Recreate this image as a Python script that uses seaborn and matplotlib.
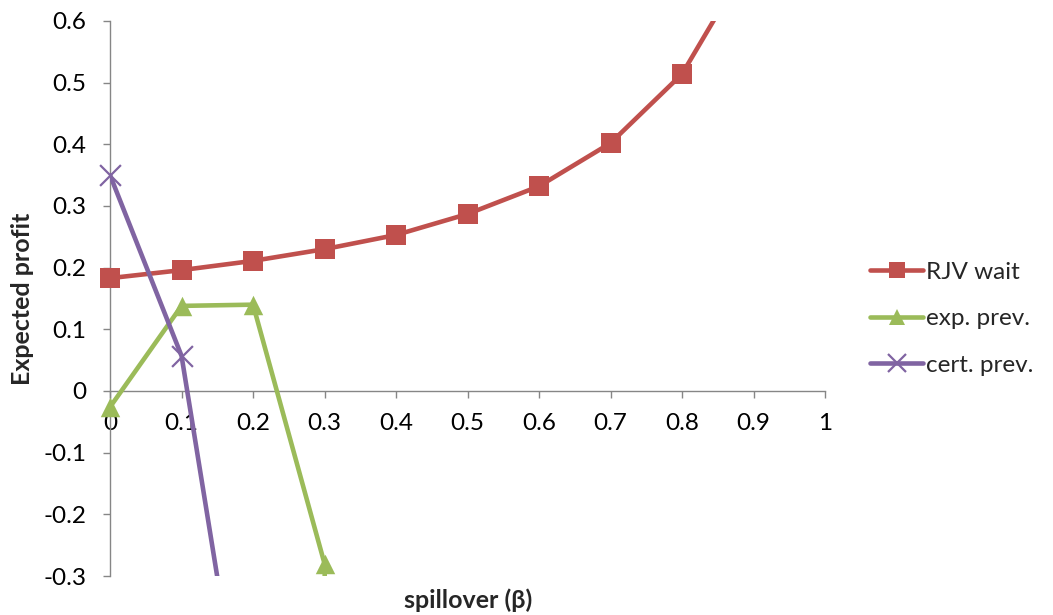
import numpy as np
import matplotlib
matplotlib.use("Agg")
import matplotlib.pyplot as plt
from matplotlib.lines import Line2D
from matplotlib.ticker import FixedLocator, FuncFormatter
import seaborn as sns

# Spillover levels and expected profit for each strategy
beta = [0.0, 0.1, 0.2, 0.3, 0.4, 0.5, 0.6, 0.7, 0.8, 0.9]
rjv_wait = [0.183, 0.196, 0.211, 0.230, 0.253, 0.287, 0.332, 0.402, 0.514, 0.71]
exp_prev = [-0.026, 0.138, 0.140, -0.280, -8.0]
cert_prev = [0.350, 0.057, -0.66]

series_names = ["RJV wait", "exp. prev.", "cert. prev."]
x_ticks = [0, 0.1, 0.2, 0.3, 0.4, 0.5, 0.6, 0.7, 0.8, 0.9, 1]
y_ticks = [-0.3, -0.2, -0.1, 0, 0.1, 0.2, 0.3, 0.4, 0.5, 0.6]
y_min, y_max = -0.3, 0.6

sns.set_theme(style="white")
plt.rcParams["font.family"] = ["Lato", "DejaVu Sans"]
plt.rcParams["axes.unicode_minus"] = False

fig = plt.figure(figsize=(10.53, 6.15), dpi=100)
ax = fig.add_axes([0.1045, 0.0634, 0.679, 0.9025])

styles = [
    dict(color="#C0504D", marker="s", ms=14, mew=0),
    dict(color="#9BBB59", marker="^", ms=14, mew=0),
    dict(color="#8064A2", marker="x", ms=15, mew=1.6),
]
LW = 3.3
handles = []
for name, vals, st in zip(series_names, [rjv_wait, exp_prev, cert_prev], styles):
    xs = np.array(beta[:len(vals)])
    ys = np.array(vals)
    # the connecting line is clipped to the plot area
    sns.lineplot(x=xs, y=ys, ax=ax, color=st["color"], linewidth=LW,
                 solid_capstyle="round", legend=False)
    # markers for points inside the value range are drawn whole
    inside = (ys >= y_min) & (ys <= y_max)
    if st["marker"] == "x":
        sns.scatterplot(x=xs[inside], y=ys[inside], ax=ax, marker="x",
                        s=st["ms"] ** 2, color=st["color"],
                        linewidth=st["mew"], legend=False, zorder=3)
    else:
        sns.scatterplot(x=xs[inside], y=ys[inside], ax=ax,
                        marker=st["marker"], s=st["ms"] ** 2,
                        color=st["color"], edgecolor=st["color"],
                        linewidth=0, legend=False, zorder=3)
    ax.collections[-1].set_clip_on(False)
    handles.append(Line2D([], [], color=st["color"], linewidth=LW,
                          solid_capstyle="round", marker=st["marker"],
                          markersize=st["ms"] * 0.85, markeredgewidth=st["mew"],
                          markerfacecolor=st["color"],
                          markeredgecolor=st["color"]))

ax.set_xlim(0, 1)
ax.set_ylim(y_min, y_max)
ax.set_xlabel("")
ax.set_ylabel("")

axis_grey = "#868686"
for side in ["top", "right"]:
    ax.spines[side].set_visible(False)
for side in ["left", "bottom"]:
    ax.spines[side].set_color(axis_grey)
    ax.spines[side].set_linewidth(1.0)
    ax.spines[side].set_zorder(1)
ax.spines["bottom"].set_position(("data", 0))

fmt = FuncFormatter(lambda v, p: f"{v:g}")
ax.xaxis.set_major_locator(FixedLocator(x_ticks))
ax.yaxis.set_major_locator(FixedLocator(y_ticks))
ax.xaxis.set_major_formatter(fmt)
ax.yaxis.set_major_formatter(fmt)
ax.tick_params(axis="both", direction="out", length=5, width=1.0,
               color=axis_grey, labelsize=17.5, labelcolor="black")
ax.tick_params(axis="y", pad=12, left=True)
ax.tick_params(axis="x", pad=11, bottom=True)
ax.grid(False)

fig.legend(handles, series_names, loc="center left",
           bbox_to_anchor=(0.826, 0.482), frameon=False, fontsize=17.5,
           handlelength=2.2, handletextpad=0.1, labelspacing=1.05,
           borderpad=0, borderaxespad=0)

fig.text(0.445, 0.024, "spillover (β)", ha="center", va="center",
         fontsize=18, fontweight="bold")
fig.text(0.021, 0.514, "Expected profit", ha="center", va="center",
         rotation=90, fontsize=18, fontweight="bold")

fig.savefig("out.png", dpi=100)
